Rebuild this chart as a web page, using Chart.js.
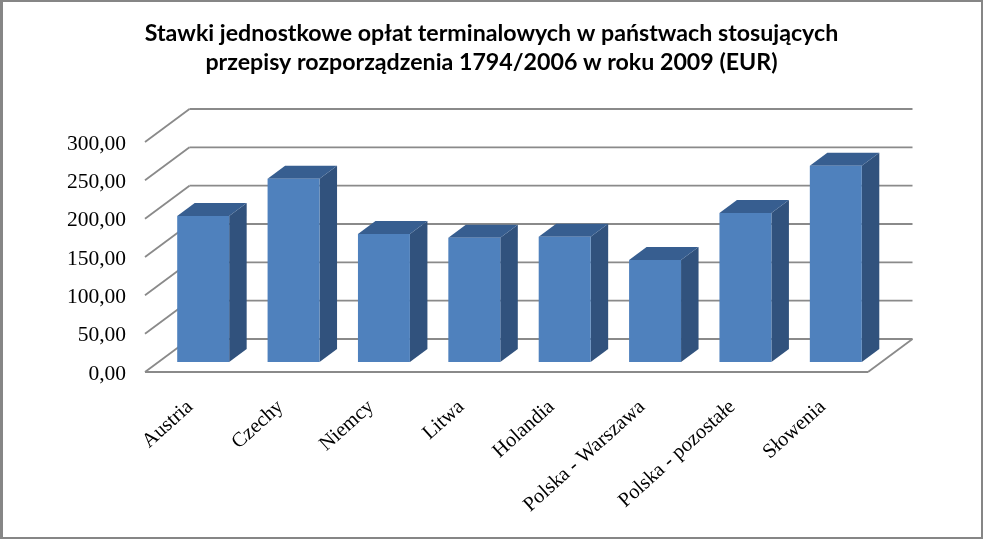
<!DOCTYPE html>
<html>
<head>
<meta charset="utf-8">
<title>Stawki jednostkowe</title>
<script src="https://cdn.jsdelivr.net/npm/chart.js@4/dist/chart.umd.min.js"></script>
<style>
    html, body { margin: 0; padding: 0; background: #fff; }
    #wrap { position: relative; width: 983px; height: 539px; }
    #ratesChart { display: block; }
</style>
</head>
<body>
<div id="wrap"><canvas id="ratesChart" width="983" height="539"></canvas></div>
<script>
// Values
const categories = ['Austria', 'Czechy', 'Niemcy', 'Litwa', 'Holandia', 'Polska - Warszawa', 'Polska - pozostałe', 'Słowenia'];
const rates = [190.5, 239, 167, 162, 163.5, 133, 194.5, 256];
const yTicks = [0, 50, 100, 150, 200, 250, 300];
const titleLines = ['Stawki jednostkowe opłat terminalowych w państwach stosujących', 'przepisy rozporządzenia 1794/2006 w roku 2009 (EUR)'];

// Depth of the fake 3D box, in pixels
const wallDx = 44.5, wallDy = 33;     // front axis to back wall
const barShiftX = 13, barShiftY = 10; // front axis to front face of the bars
const barDx = 17.5, barDy = 13;     // depth of one bar
const lineColor = '#8a8a8a';

function line(ctx, x1, y1, x2, y2) {
    ctx.beginPath();
    ctx.moveTo(x1, y1);
    ctx.lineTo(x2, y2);
    ctx.stroke();
}

function poly(ctx, pts, color) {
    ctx.fillStyle = color;
    ctx.beginPath();
    pts.forEach((p, i) => i ? ctx.lineTo(p[0], p[1]) : ctx.moveTo(p[0], p[1]));
    ctx.closePath();
    ctx.fill();
}

// Frame round the whole picture
const framePlugin = {
    id: 'frame',
    afterDraw(chart) {
        const ctx = chart.ctx;
        ctx.save();
        ctx.strokeStyle = '#868686';
        ctx.lineWidth = 2;
        ctx.strokeRect(1, 1, chart.width - 2, chart.height - 2);
        ctx.fillStyle = '#868686';
        ctx.fillRect(2, 0, 1, chart.height);
        ctx.restore();
    }
};

// Back wall gridlines, left wall diagonals and the floor
const wallsPlugin = {
    id: 'walls',
    beforeDatasetsDraw(chart) {
        const ctx = chart.ctx;
        const { left, right } = chart.chartArea;
        const y = chart.scales.y;
        ctx.save();
        ctx.strokeStyle = lineColor;
        ctx.lineWidth = 1.8;
        yTicks.forEach(v => {
            const py = y.getPixelForValue(v);
            line(ctx, left, py, left + wallDx, py - wallDy);
            line(ctx, left + wallDx, py - wallDy, right + wallDx, py - wallDy);
        });
        const y0 = y.getPixelForValue(0);
        line(ctx, left, y0, right, y0);
        line(ctx, right, y0, right + wallDx, y0 - wallDy);
        ctx.restore();
    }
};

// Side and top faces first, then the library draws the front face shifted into the box
const boxPlugin = {
    id: 'box',
    beforeDatasetDraw(chart, args) {
        const ctx = chart.ctx;
        ctx.save();
        ctx.translate(barShiftX, -barShiftY);
        args.meta.data.forEach(bar => {
            const l = bar.x - bar.width / 2, r = bar.x + bar.width / 2;
            poly(ctx, [[r, bar.y], [r + barDx, bar.y - barDy], [r + barDx, bar.base - barDy], [r, bar.base]], '#31527d');
            poly(ctx, [[l, bar.y], [l + barDx, bar.y - barDy], [r + barDx, bar.y - barDy], [r, bar.y]], '#375e90');
        });
    },
    afterDatasetDraw(chart) {
        chart.ctx.restore();
    }
};

const ctx = document.getElementById('ratesChart').getContext('2d');
const ratesChart = new Chart(ctx, {
    type: 'bar',
    data: {
        labels: categories,
        datasets: [{
            label: 'Stawka',
            data: rates,
            backgroundColor: '#4f81bd',
            borderWidth: 0,
            categoryPercentage: 1,
            barPercentage: 0.575
        }]
    },
    options: {
        responsive: false,
        animation: false,
        layout: { padding: 0 },
        plugins: {
            legend: { display: false },
            tooltip: { enabled: false },
            title: {
                display: true,
                text: titleLines,
                color: '#000',
                font: { family: 'Lato', size: 23.2, weight: 'bold', lineHeight: 1.25 },
                padding: { top: 19, bottom: 65 }
            }
        },
        scales: {
            x: {
                grid: { display: false, drawTicks: false },
                border: { display: false },
                afterFit: s => { s.height = 167; },
                ticks: {
                    autoSkip: false,
                    minRotation: 42,
                    maxRotation: 42,
                    padding: 23,
                    color: '#000',
                    font: { family: 'Liberation Serif', size: 20.5 }
                }
            },
            y: {
                min: 0,
                max: 300,
                grid: { display: false, drawTicks: false },
                border: { display: false },
                afterFit: s => { s.width = 145; },
                afterBuildTicks: s => { s.ticks = yTicks.map(v => ({ value: v })); },
                ticks: {
                    padding: 19,
                    labelOffset: 2,
                    color: '#000',
                    font: { family: 'Liberation Serif', size: 21.5 },
                    callback: v => v.toFixed(2).replace('.', ',')
                }
            },
            // empty right axis, keeps the plot clear of the right edge while the title stays centred on the page
            spacer: {
                position: 'right',
                grid: { display: false, drawTicks: false },
                border: { display: false },
                ticks: { display: false },
                afterFit: s => { s.width = 115; }
            }
        }
    },
    plugins: [framePlugin, wallsPlugin, boxPlugin]
});
</script>
</body>
</html>
